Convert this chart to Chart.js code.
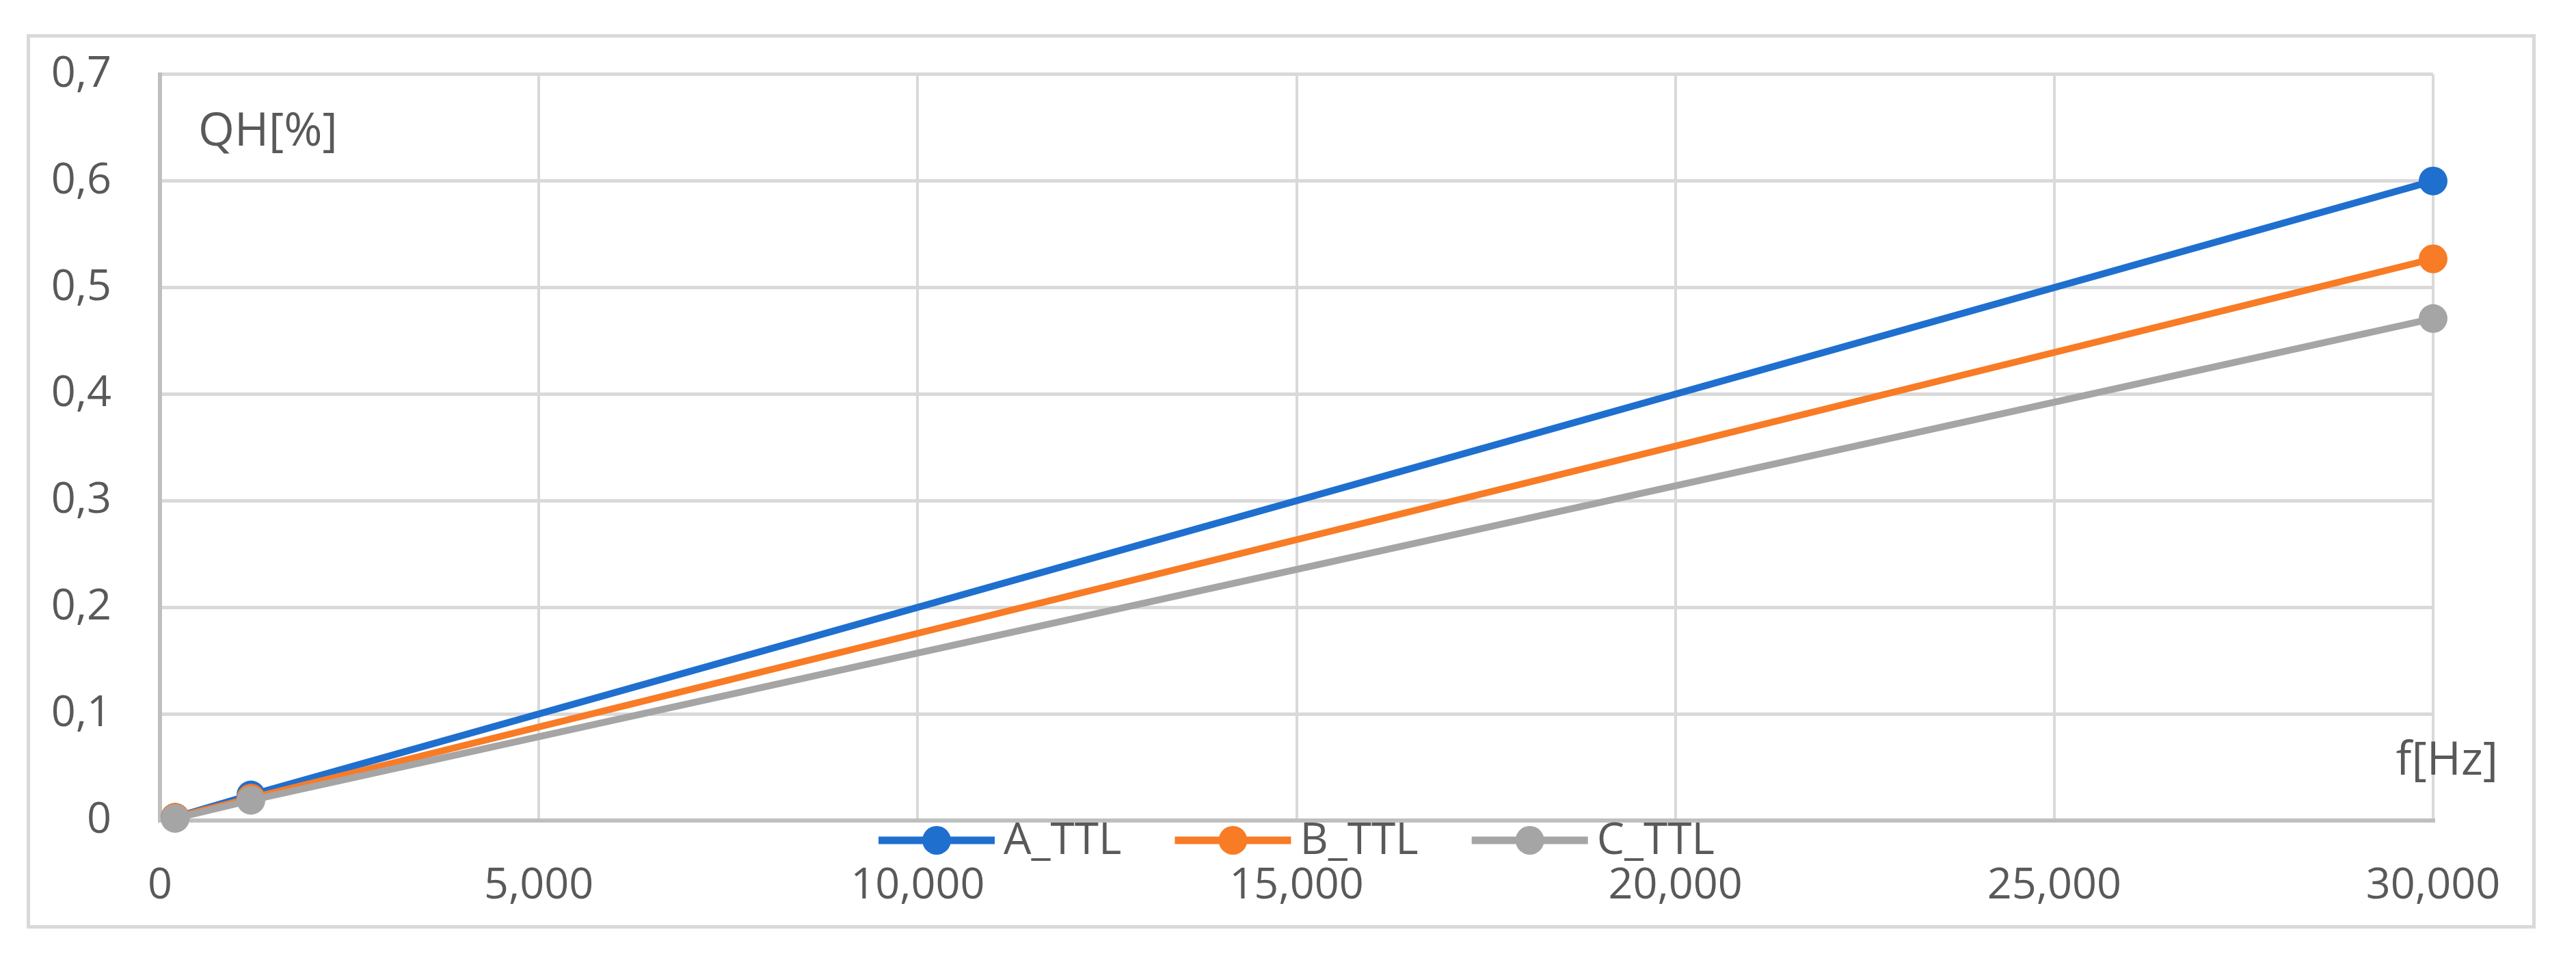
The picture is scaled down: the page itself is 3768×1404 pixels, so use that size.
<!DOCTYPE html>
<html>
<head>
<meta charset="utf-8">
<script src="https://cdn.jsdelivr.net/npm/chart.js@4.4.0/dist/chart.umd.min.js"></script>
<style>
  html, body { margin: 0; padding: 0; background: #ffffff; }
  #wrap { position: relative; width: 3768px; height: 1404px; overflow: hidden; }
  #frame { position: absolute; left: 39px; top: 50px; width: 3660px; height: 1298px; border: 5px solid #d9d9d9; box-sizing: content-box; }
  canvas { position: absolute; left: 0; top: 0; }
</style>
</head>
<body>
<div id="wrap">
  <div id="frame"></div>
  <canvas id="c" width="3768" height="1404"></canvas>
</div>
<script>
// ---- data ----
const freqHz = [200, 1200, 30000];
const seriesNames = ['A_TTL', 'B_TTL', 'C_TTL'];
const valuesA = [0.003, 0.024, 0.600];
const valuesB = [0.003, 0.021, 0.527];
const valuesC = [0.002, 0.019, 0.471];
const seriesColors = ['#1f6fcf', '#f87b26', '#a5a5a5'];
const yTickMin = 0, yTickMax = 0.7, yTickStep = 0.1;
const xTickMin = 0, xTickMax = 30000, xTickStep = 5000;
const yAxisTitle = 'QH[%]';
const xAxisTitle = 'f[Hz]';

const FONT = "'Open Sans', 'Noto Sans', sans-serif";
const TEXT = '#595959';

function pts(vals) { return freqHz.map((f, i) => ({ x: f, y: vals[i] })); }
const allVals = [valuesA, valuesB, valuesC];

const datasets = allVals.map((vals, i) => ({
  label: seriesNames[i],
  data: pts(vals),
  borderColor: seriesColors[i],
  backgroundColor: seriesColors[i],
  pointBackgroundColor: seriesColors[i],
  pointBorderColor: seriesColors[i],
  borderWidth: 10,
  pointRadius: 21,
  pointBorderWidth: 0,
  tension: 0,
  clip: false,
  order: 3 - i
}));

const overlay = {
  id: 'overlay',
  afterDraw(chart) {
    const ctx = chart.ctx, a = chart.chartArea;
    ctx.save();
    ctx.fillStyle = TEXT;
    ctx.font = '68px ' + FONT;
    ctx.textBaseline = 'alphabetic';
    ctx.textAlign = 'left';
    ctx.fillText(yAxisTitle, a.left + 56, a.top + 104);
    ctx.textAlign = 'right';
    ctx.fillText(xAxisTitle, a.right + 95, a.bottom - 67);

    // legend
    ctx.font = '64px ' + FONT;
    const lineLen = 170, gapText = 13, gapItem = 78;
    const widths = datasets.map(d => ctx.measureText(d.label).width);
    let total = 0;
    widths.forEach((w, i) => { total += lineLen + gapText + w + (i < widths.length - 1 ? gapItem : 0); });
    let x = (a.left + a.right) / 2 - total / 2;
    const cy = a.bottom + 29;
    datasets.forEach((d, i) => {
      ctx.strokeStyle = d.borderColor;
      ctx.lineWidth = 11;
      ctx.beginPath();
      ctx.moveTo(x, cy);
      ctx.lineTo(x + lineLen, cy);
      ctx.stroke();
      ctx.fillStyle = d.borderColor;
      ctx.beginPath();
      ctx.arc(x + lineLen / 2, cy, 21, 0, Math.PI * 2);
      ctx.fill();
      ctx.fillStyle = TEXT;
      ctx.textAlign = 'left';
      ctx.textBaseline = 'middle';
      ctx.fillText(d.label, x + lineLen + gapText, cy + 2);
      x += lineLen + gapText + widths[i] + gapItem;
    });
    ctx.restore();
  }
};

new Chart(document.getElementById('c'), {
  type: 'line',
  data: { datasets },
  options: {
    responsive: false,
    maintainAspectRatio: false,
    devicePixelRatio: 1,
    animation: false,
    layout: { padding: { left: 0, top: 101, right: 209, bottom: 0 } },
    plugins: { legend: { display: false }, tooltip: { enabled: false } },
    scales: {
      x: {
        type: 'linear',
        min: xTickMin, max: xTickMax,
        afterFit(s) { s.height = 204; },
        ticks: {
          stepSize: xTickStep,
          color: TEXT,
          font: { family: FONT, size: 63 },
          padding: 58,
          maxRotation: 0,
          callback: v => Number(v).toLocaleString('en-US')
        },
        grid: {
          color: ctx => (ctx.tick && ctx.tick.value === 0) ? '#bfbfbf' : '#d9d9d9',
          lineWidth: ctx => (ctx.tick && ctx.tick.value === 0) ? 6 : 4,
          drawTicks: false
        },
        border: { display: true, color: '#bfbfbf', width: 6 }
      },
      y: {
        min: yTickMin, max: yTickMax,
        afterFit(s) { s.width = 234; },
        ticks: {
          stepSize: yTickStep,
          color: TEXT,
          font: { family: FONT, size: 63 },
          padding: 71,
          callback: v => { const r = Math.round(v * 10) / 10; return r === 0 ? '0' : String(r).replace('.', ','); }
        },
        grid: {
          color: ctx => (ctx.tick && ctx.tick.value === 0) ? '#bfbfbf' : '#d9d9d9',
          lineWidth: ctx => (ctx.tick && ctx.tick.value === 0) ? 6 : 5,
          drawTicks: false
        },
        border: { display: true, color: '#bfbfbf', width: 6 }
      }
    }
  },
  plugins: [overlay]
});
</script>
</body>
</html>
